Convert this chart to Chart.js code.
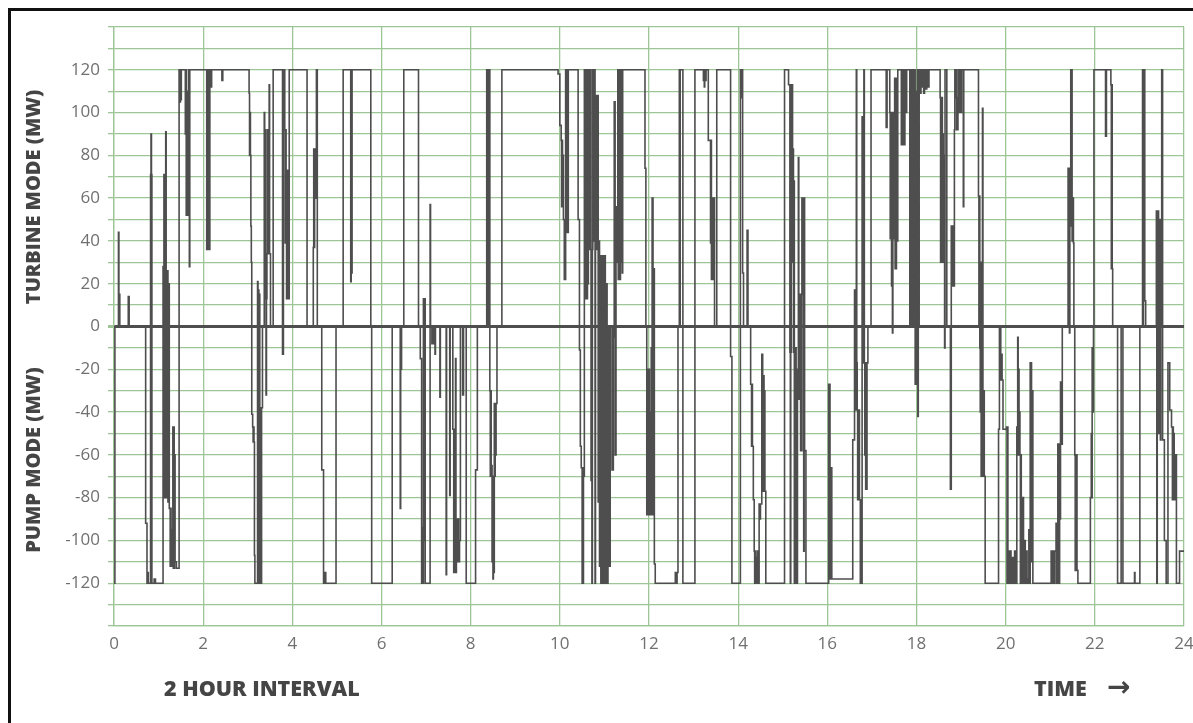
<!DOCTYPE html>
<html>
<head>
<meta charset="utf-8">
<script src="https://cdn.jsdelivr.net/npm/chart.js@4.4.1/dist/chart.umd.min.js"></script>
<style>
  body { margin: 0; background: #fff; }
  #wrap { position: relative; width: 1193px; height: 723px; overflow: hidden; background: #fff; }
  #frame { position: absolute; left: 8px; top: 8px; width: 1200px; height: 730px; border: 3px solid #111; box-sizing: border-box; }
  canvas { position: absolute; left: 0; top: 0; }
  .lbl { position: absolute; font-family: "Open Sans", sans-serif; font-weight: 800; font-size: 20px; color: #454545; white-space: nowrap; line-height: 24px; }
  .big { font-size: 21.5px; }
  .rot { transform: translate(-50%, -50%) rotate(-90deg); }
  .arrow { position: absolute; font-family: "DejaVu Sans", sans-serif; font-weight: bold; font-size: 28px; color: #454545; line-height: 24px; }
</style>
</head>
<body>
<div id="wrap">
  <div id="frame"></div>
  <canvas id="mw-chart" width="1193" height="723"></canvas>
  <div class="lbl rot" style="left:33px; top:197px;">TURBINE MODE (MW)</div>
  <div class="lbl rot" style="left:33px; top:460px;">PUMP MODE (MW)</div>
  <div class="lbl big" style="left:164px; top:676px;">2 HOUR INTERVAL</div>
  <div class="lbl big" style="left:1034px; top:676px;">TIME</div>
  <div class="arrow" style="left:1107px; top:675px;">&#8594;</div>
</div>
<script>
// [hour, MW] - value changes to MW at that hour (step chart)
const steps0to4 = [
  [0, -120], [0.02, 0], [0.10, 44], [0.11, 15], [0.13, 0], [0.32, 14], [0.34, 0],
  [0.71, -92], [0.74, -120], [0.75, -115], [0.77, -120], [0.82, 71], [0.83, 90], [0.84, 71], [0.85, -120],
  [0.90, -118], [0.93, -120],
  [1.10, 28], [1.12, 71], [1.13, -80], [1.14, 71], [1.15, -80], [1.16, 91], [1.17, -80], [1.18, 26],
  [1.19, -80], [1.20, 26], [1.21, -82], [1.23, 20], [1.24, -85], [1.26, -112], [1.27, -85], [1.28, -112],
  [1.30, -95], [1.32, -47], [1.33, -113], [1.34, -47], [1.35, -113], [1.36, -60], [1.37, -110], [1.40, -113],
  [1.46, 120], [1.48, 105], [1.49, 120], [1.50, 106], [1.51, 120], [1.60, 90], [1.61, 120], [1.62, 52],
  [1.63, 110], [1.64, 55], [1.65, 90], [1.66, 52], [1.67, 120], [1.69, 28], [1.70, 120],
  [2.08, 36], [2.09, 120], [2.10, 36], [2.11, 115], [2.12, 38], [2.13, 120], [2.14, 36], [2.15, 120],
  [2.17, 112], [2.19, 120], [2.42, 115], [2.44, 120],
  [3.03, 109], [3.04, 80], [3.05, 100], [3.06, 80], [3.07, 47], [3.08, 30], [3.09, -41], [3.11, -47],
  [3.12, -54], [3.13, -47], [3.14, -54], [3.15, -107], [3.16, -120],
  [3.22, 21], [3.23, -120], [3.24, 17], [3.25, -120], [3.26, 15], [3.27, -120], [3.28, -38], [3.29, -120],
  [3.31, -38], [3.33, 0],
  [3.37, 100], [3.38, 34], [3.39, 92], [3.40, 13], [3.41, -32], [3.42, 13], [3.43, 34], [3.44, 92],
  [3.45, 34], [3.46, 92], [3.47, 40], [3.48, 113], [3.49, 34], [3.51, 0], [3.57, 120], [3.78, -13],
  [3.80, 120], [3.83, 92], [3.84, 39], [3.85, 92], [3.86, 73], [3.87, 13], [3.88, 73], [3.89, 39],
  [3.90, 73], [3.91, 13], [3.93, 120]
];
const steps4to8 = [
  [4.33, 0], [4.47, 37], [4.48, 83], [4.49, 37], [4.50, 83], [4.52, 60], [4.54, 120], [4.56, 0],
  [4.66, -67], [4.70, -120], [4.73, -115], [4.75, -120], [4.98, 0], [5.14, 120], [5.31, 21], [5.32, 120],
  [5.33, 25], [5.34, 120], [5.76, 0], [5.78, -120], [6.24, 0], [6.42, -85], [6.43, -20], [6.45, 0],
  [6.50, 120], [6.83, 0], [6.87, -15], [6.90, -120], [6.91, -94], [6.92, -120], [6.94, 13], [6.95, -100],
  [6.96, 13], [6.98, -120], [7.09, 57], [7.10, 0], [7.13, -8], [7.14, 0], [7.15, -8], [7.17, 0],
  [7.20, -13], [7.21, 0], [7.31, -33], [7.32, 0], [7.45, -116], [7.46, 0], [7.53, -79], [7.54, 0],
  [7.60, -48], [7.62, -115], [7.63, -48], [7.64, -115], [7.66, -15], [7.67, -115], [7.68, -90], [7.70, -110],
  [7.71, -90], [7.73, -110], [7.75, -100], [7.77, 0], [7.82, -32], [7.84, 0], [7.90, -120]
];
const steps8to12 = [
  [8.11, -67], [8.15, 0], [8.36, 120], [8.37, 0], [8.38, 120], [8.39, 100], [8.40, 120], [8.41, 0],
  [8.42, 120], [8.43, -30], [8.44, -70], [8.45, -30], [8.46, -70], [8.47, -65], [8.48, -110], [8.49, -70],
  [8.50, -118], [8.51, -72], [8.52, -115], [8.53, -36], [8.54, -70], [8.55, -36], [8.56, -60], [8.57, -36],
  [8.59, 0], [8.70, 120],
  [9.96, 118], [10.00, 94], [10.03, 87], [10.04, 56], [10.05, 87], [10.06, 56], [10.07, 80], [10.08, 50],
  [10.10, 22], [10.11, 50], [10.12, 22], [10.13, 120], [10.14, 44], [10.15, 120], [10.16, 44], [10.17, 110],
  [10.18, 44], [10.19, 120], [10.41, 50], [10.44, -11], [10.46, -56], [10.48, -66], [10.50, -120], [10.51, -66],
  [10.52, -120], [10.53, -70], [10.55, 120], [10.57, 13], [10.58, 120], [10.59, 30], [10.60, 120], [10.61, 13],
  [10.62, 100], [10.63, 20], [10.64, 120], [10.65, 36], [10.66, 120], [10.67, 36], [10.68, 120], [10.70, -72],
  [10.72, -120], [10.73, 36], [10.74, 120], [10.75, 40], [10.77, 120], [10.79, -120], [10.80, 36], [10.82, 108],
  [10.83, 36], [10.84, 108], [10.86, -82], [10.87, 40], [10.89, -112], [10.91, 33], [10.92, -120], [10.93, 33],
  [10.94, -120], [10.96, 33], [10.98, -120], [11.00, 33], [11.02, -120], [11.04, 20], [11.06, -120], [11.08, 0],
  [11.11, -112], [11.13, 0], [11.17, -67], [11.18, 0], [11.19, -67], [11.20, -5], [11.22, 105], [11.24, -60],
  [11.26, 56], [11.27, 30], [11.28, 56], [11.29, 30], [11.30, 120], [11.31, 22], [11.32, 120], [11.33, 30],
  [11.34, 120], [11.35, 22], [11.36, 110], [11.37, 30], [11.38, 120], [11.40, 25], [11.41, 120],
  [11.91, 74], [11.93, 0], [11.95, -88], [11.96, -20], [11.97, -88], [11.98, -30], [11.99, -88], [12.00, -20],
  [12.01, -88], [12.02, -40], [12.03, -88], [12.05, -10], [12.06, -88]
];
const steps12to16 = [
  [12.07, 60], [12.09, -88], [12.10, 27], [12.12, -111], [12.14, -120], [12.59, -115], [12.61, -120], [12.63, -115],
  [12.65, 0], [12.68, 120], [12.69, 0], [12.70, 120], [12.76, -120], [13.03, 120], [13.22, 115], [13.23, 120],
  [13.24, 112], [13.25, 120], [13.26, 115], [13.28, 120], [13.33, 87], [13.38, 39], [13.39, 87], [13.40, 22],
  [13.41, 60], [13.42, 22], [13.43, 39], [13.44, 22], [13.45, 60], [13.47, 0], [13.52, 120], [13.83, -14],
  [13.86, -120], [14.05, 120], [14.06, 107], [14.07, 120], [14.08, 107], [14.09, 120], [14.10, 25], [14.12, 0],
  [14.20, 45], [14.22, 0], [14.28, -27], [14.30, -56], [14.31, -27], [14.32, -56], [14.34, -81], [14.36, -105],
  [14.37, -120], [14.38, -105], [14.39, -120], [14.40, -108], [14.41, -120], [14.43, -105], [14.45, -120], [14.47, -83],
  [14.48, -90], [14.50, -83], [14.53, -13], [14.55, -23], [14.56, -77], [14.57, -23], [14.58, -77], [14.59, -30],
  [14.60, -77], [14.62, -120], [15.04, 120], [15.13, 113], [15.16, -12], [15.17, -120], [15.18, -12], [15.19, 113],
  [15.20, 68], [15.21, 113], [15.22, 30], [15.23, 83], [15.24, -12], [15.25, 68], [15.26, -120], [15.27, -12],
  [15.28, -120], [15.29, -10], [15.30, -120], [15.33, -20], [15.35, 79], [15.36, -34], [15.37, -10], [15.38, -34],
  [15.39, 15], [15.40, -58], [15.41, 15], [15.42, -58], [15.43, 60], [15.44, 15], [15.45, 60], [15.46, 15],
  [15.47, -105], [15.48, 60], [15.49, -58], [15.52, -120], [16.03, -27], [16.06, -118], [16.08, -66], [16.10, -118]
];
const steps16to20 = [
  [16.57, -53], [16.61, 17], [16.62, -17], [16.63, -39], [16.64, -17], [16.65, 120], [16.66, -17], [16.67, -39],
  [16.68, -81], [16.69, -39], [16.70, -81], [16.71, -39], [16.72, -81], [16.74, -120], [16.75, -81], [16.76, -120],
  [16.78, 98], [16.79, -17], [16.80, 98], [16.81, -17], [16.82, 120], [16.83, -17], [16.84, -60], [16.85, -17],
  [16.86, -76], [16.87, -40], [16.88, -76], [16.89, -17], [16.91, 0], [16.98, 120], [17.32, 93], [17.34, 120],
  [17.40, 100], [17.41, 41], [17.42, 100], [17.43, 41], [17.44, 19], [17.45, 100], [17.46, -3], [17.47, 41],
  [17.48, 100], [17.49, 41], [17.51, 116], [17.52, 27], [17.53, 116], [17.54, 27], [17.55, 116], [17.56, 40],
  [17.58, 120], [17.66, 85], [17.67, 120], [17.68, 85], [17.70, 120], [17.72, 85], [17.74, 120], [17.76, 100],
  [17.78, 120], [17.85, 0], [17.86, 120], [17.87, 0], [17.88, 110], [17.89, 0], [17.90, 120], [17.91, 5],
  [17.92, 120], [17.93, 0], [17.94, 115], [17.95, 0], [17.96, 120], [17.97, -27], [17.98, 100], [17.99, -27],
  [18.00, 110], [18.01, -27], [18.02, 120], [18.03, -42], [18.04, 110], [18.05, 0], [18.06, 120], [18.08, 109],
  [18.10, 120], [18.12, 112], [18.14, 120], [18.16, 109], [18.18, 120], [18.21, 111], [18.23, 120], [18.26, 112],
  [18.28, 120], [18.53, 107], [18.54, 30], [18.55, 107], [18.56, 60], [18.57, 107], [18.58, 30], [18.59, 90],
  [18.60, 30], [18.61, 80], [18.62, 40], [18.63, -10], [18.64, 120], [18.68, 0], [18.76, -76], [18.78, 47],
  [18.79, 19], [18.80, 47], [18.81, 19], [18.82, 47], [18.83, 19], [18.85, 92], [18.86, 120], [18.87, 107],
  [18.88, 120], [18.89, 107], [18.90, 92], [18.91, 107], [18.92, 92], [18.93, 120], [18.94, 107], [18.95, 120],
  [18.96, 100], [18.97, 120], [19.00, 100], [19.01, 120], [19.05, 56], [19.06, 120], [19.39, 61], [19.40, 0],
  [19.41, 61], [19.42, -10], [19.43, -40], [19.44, 30], [19.45, -70], [19.46, 20], [19.47, -70], [19.48, 102],
  [19.49, -30], [19.50, -70], [19.51, -30], [19.52, -70], [19.54, -120], [19.84, -48], [19.86, -1], [19.87, -25],
  [19.88, -1], [19.89, -25], [19.90, -13], [19.92, -25], [19.94, -48]
];
const steps20to24 = [
  [20.02, -47], [20.03, -120], [20.04, -47], [20.05, -120], [20.06, -105], [20.08, -120], [20.10, -105], [20.12, -120],
  [20.14, -108], [20.17, -120], [20.20, -105], [20.23, -120], [20.25, -47], [20.27, -5], [20.28, -60], [20.29, -20],
  [20.30, -60], [20.31, -40], [20.32, -60], [20.33, -120], [20.34, -60], [20.35, -120], [20.36, -80], [20.38, -120],
  [20.39, -80], [20.40, -120], [20.42, -100], [20.44, -120], [20.46, -105], [20.48, -120], [20.50, -118], [20.52, -95],
  [20.53, -120], [20.55, -17], [20.56, -100], [20.57, -17], [20.58, -110], [20.59, -30], [20.61, -120],
  [21.02, -105], [21.04, -120], [21.06, -105], [21.08, -120], [21.10, -105], [21.13, -92], [21.14, -120], [21.15, -92],
  [21.16, -120], [21.17, -55], [21.18, -120], [21.19, -55], [21.20, -120], [21.21, -55], [21.22, -90], [21.23, -26],
  [21.25, -55], [21.27, 0], [21.40, 74], [21.41, 47], [21.42, 74], [21.43, -3], [21.44, 47], [21.45, 74],
  [21.46, 120], [21.47, 47], [21.48, 120], [21.49, 40], [21.50, 60], [21.52, 39], [21.53, 0], [21.55, -60],
  [21.56, -114], [21.57, -60], [21.58, -95], [21.59, -60], [21.60, -114], [21.62, -120], [21.90, -80], [21.92, -50],
  [21.93, -80], [21.94, -10], [21.96, -40], [21.97, 0], [21.98, 120], [22.24, 89], [22.26, 120], [22.36, 113],
  [22.37, 27], [22.38, 113], [22.39, 27], [22.40, 0], [22.51, -120], [22.59, 0], [22.63, -120], [22.89, -115],
  [22.90, -120], [23.01, 0], [23.07, 120], [23.08, 0], [23.09, 120], [23.10, 12], [23.11, 120], [23.12, 12],
  [23.14, 0], [23.38, 54], [23.39, -120], [23.40, 50], [23.41, -50], [23.42, 54], [23.43, -50], [23.44, 40],
  [23.45, -40], [23.46, 50], [23.47, -53], [23.48, 0], [23.50, 120], [23.52, -53], [23.56, -100], [23.60, -120],
  [23.64, -17], [23.68, -39], [23.72, -47], [23.74, -81], [23.75, -47], [23.76, -81], [23.77, -50], [23.78, -81],
  [23.80, -60], [23.83, -120], [23.90, -105], [24, -105]
];

const yLabelValues = [-120, -100, -80, -60, -40, -20, 0, 20, 40, 60, 80, 100, 120];
const gridGreen = '#9dc596';

function renderChart() {
  const points = [].concat(steps0to4, steps4to8, steps8to12, steps12to16, steps16to20, steps20to24)
      .map(([h, v]) => ({ x: h, y: v }));

  const ctx = document.getElementById('mw-chart').getContext('2d');
  new Chart(ctx, {
      type: 'line',
      data: {
          datasets: [{
              label: 'MW',
              data: points,
              stepped: true,
              borderColor: '#4e4e4e',
              borderWidth: 1.6,
              pointRadius: 0,
              fill: false
          }]
      },
      options: {
          responsive: false,
          animation: false,
          layout: { padding: { top: 27, right: 9, left: 0, bottom: 0 } },
          plugins: { legend: { display: false }, tooltip: { enabled: false } },
          scales: {
              x: {
                  type: 'linear',
                  min: 0,
                  max: 24,
                  afterFit: (scale) => { scale.height = 97; scale.paddingLeft = 0; scale.paddingRight = 0; },
                  grid: { color: gridGreen, lineWidth: 1.3, drawTicks: false },
                  border: { color: gridGreen, width: 1.3 },
                  ticks: {
                      stepSize: 2,
                      padding: 8,
                      color: '#707070',
                      font: { family: 'Open Sans', size: 17 }
                  }
              },
              y: {
                  min: -140,
                  max: 140,
                  afterFit: (scale) => { scale.width = 114; scale.paddingTop = 0; scale.paddingBottom = 0; },
                  grid: {
                      color: (c) => c.tick && c.tick.value === 0 ? '#4e4e4e' : gridGreen,
                      lineWidth: (c) => c.tick && c.tick.value === 0 ? 3 : 1.3,
                      tickColor: gridGreen,
                      tickLength: 6
                  },
                  border: { color: gridGreen, width: 1.3 },
                  ticks: {
                      stepSize: 10,
                      autoSkip: false,
                      padding: 8,
                      color: '#707070',
                      font: { family: 'Open Sans', size: 17 },
                      callback: (v) => yLabelValues.includes(v) ? v : ''
                  }
              }
          }
      }
  });
}

renderChart();
</script>
</body>
</html>
